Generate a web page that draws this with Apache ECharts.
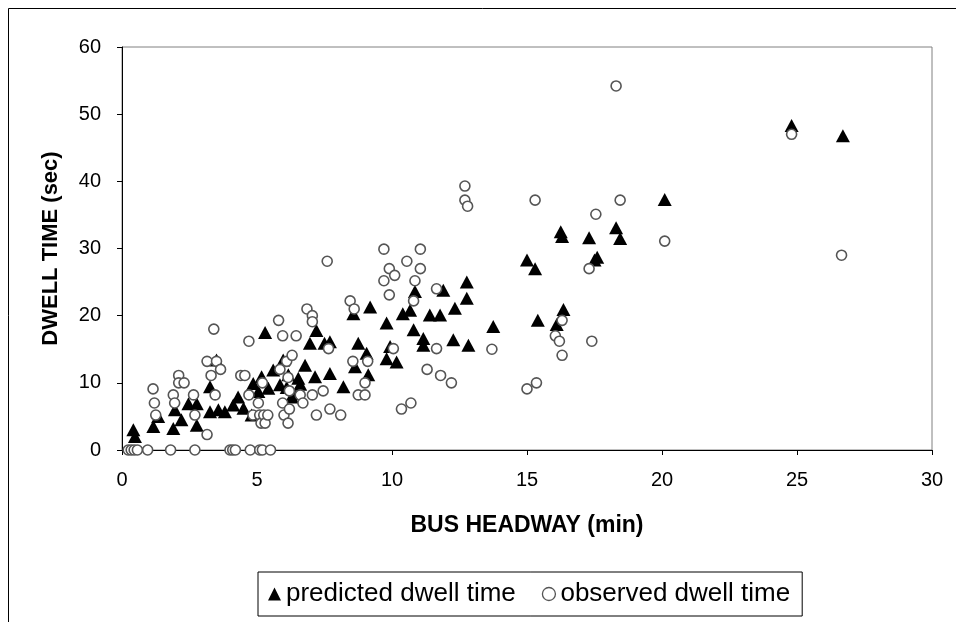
<!DOCTYPE html>
<html>
<head>
<meta charset="utf-8">
<script src="https://cdn.jsdelivr.net/npm/echarts@6/dist/echarts.min.js"></script>
<style>
  html, body { margin: 0; padding: 0; background: #fff; }
  #chart { width: 956px; height: 622px; }
</style>
</head>
<body>
<div id="chart"></div>
<script>
// 预测值 [headway(min), dwell(sec)]
const predicted = [
    [0.42, 3], [0.48, 2], [1.16, 3.5], [1.34, 5], [1.9, 3.2], [1.96, 6], [2.2, 4.5],
    [2.46, 6.9], [2.77, 6.9], [2.77, 3.7], [3.26, 9.4], [3.26, 5.7], [3.57, 6],
    [3.5, 13.4], [3.81, 5.7], [4.12, 6.7], [4.3, 7.9], [4.5, 6.2], [4.8, 5.2],
    [4.86, 9.9], [5.05, 8.7], [5.17, 10.9], [5.3, 17.5], [5.42, 9.2], [5.6, 11.9],
    [5.85, 9.7], [5.97, 13.4], [6.1, 9.3], [6.16, 11.2], [6.3, 7.9], [6.35, 8.4],
    [6.53, 10.7], [6.6, 9.8], [6.78, 12.6], [6.96, 15.9], [7.15, 10.9], [7.2, 17.8],
    [7.5, 15.9], [7.7, 16.1], [7.7, 11.4], [8.2, 9.4], [8.57, 20.3], [8.63, 12.4],
    [8.75, 15.9], [9.06, 14.4], [9.12, 11.2], [9.19, 21.3], [9.8, 18.9], [9.8, 13.6],
    [9.93, 15.4], [10.17, 13.1], [10.4, 20.3], [10.67, 20.8], [10.8, 17.9],
    [10.85, 23.6], [11.16, 16.6], [11.16, 15.6], [11.4, 20.1], [11.78, 20.1],
    [11.9, 23.8], [12.27, 16.4], [12.33, 21.1], [12.77, 25], [12.77, 22.6],
    [12.83, 15.6], [13.75, 18.4], [15.0, 28.3], [15.3, 27], [15.4, 19.3],
    [16.1, 18.7], [16.25, 32.5], [16.3, 31.8], [16.35, 20.9], [17.3, 31.6],
    [17.5, 28.3], [17.6, 28.7], [18.3, 33.1], [18.45, 31.5], [20.1, 37.3],
    [24.8, 48.3], [26.7, 46.8]
];

// 观测值
const observed = [
    [0.23, 0], [0.34, 0], [0.45, 0], [0.57, 0], [0.95, 0], [1.8, 0], [2.7, 0],
    [4.0, 0], [4.1, 0], [4.2, 0], [4.75, 0], [5.1, 0], [5.2, 0], [5.5, 0],
    [1.15, 9.1], [1.2, 7], [1.25, 5.2], [1.9, 8.2], [1.95, 7], [2.1, 11.1], [2.1, 10],
    [2.3, 10], [2.65, 8.2], [2.7, 5.2], [3.15, 13.2], [3.15, 2.3], [3.3, 11.1],
    [3.4, 18], [3.45, 8.2], [3.5, 13.2], [3.65, 12], [4.4, 11.1], [4.55, 11.1],
    [4.7, 16.2], [4.7, 8.2], [4.85, 5.2], [5.05, 7], [5.1, 5.2], [5.2, 10],
    [5.15, 4], [5.25, 5.2], [5.3, 4], [5.4, 5.2], [5.8, 19.3], [5.95, 17],
    [5.85, 12], [5.95, 7], [6.0, 5.2], [6.1, 13.2], [6.15, 10.8], [6.2, 8.8],
    [6.15, 4], [6.2, 6.1], [6.3, 14.1], [6.45, 17], [6.6, 8.2], [6.7, 7],
    [6.85, 21], [7.05, 20], [7.05, 19.1], [7.05, 8.2], [7.2, 5.2], [7.45, 8.8],
    [7.6, 28.1], [7.65, 15.1], [7.7, 6.1], [8.1, 5.2], [8.45, 22.2], [8.55, 13.2],
    [8.6, 21], [8.75, 8.2], [9.0, 10], [9.0, 8.2], [9.1, 13.2], [9.7, 29.9],
    [9.7, 25.2], [9.9, 27], [9.9, 23.1], [10.05, 15.1], [10.1, 26], [10.35, 6.1],
    [10.55, 28.1], [10.7, 7], [10.85, 25.2], [10.8, 22.2], [11.05, 29.9],
    [11.05, 27], [11.3, 12], [11.65, 15.1], [11.65, 24], [11.8, 11.1], [12.2, 10],
    [12.7, 39.3], [12.7, 37.2], [12.8, 36.3], [13.7, 15], [15.0, 9.1], [15.3, 37.2],
    [15.35, 10], [16.05, 17], [16.2, 16.2], [16.3, 19.3], [16.3, 14.1], [17.3, 27],
    [17.4, 16.2], [17.55, 35.1], [18.3, 54.2], [18.45, 37.2], [20.1, 31.1],
    [24.8, 47], [26.65, 29]
];

const seriesNames = ['predicted dwell time', 'observed dwell time'];

const chart = echarts.init(document.getElementById('chart'));
const font = 'Liberation Sans, Arial, sans-serif';

const option = {
    backgroundColor: '#fff',
    animation: false,
    textStyle: { fontFamily: font },
    grid: { left: 122, top: 47, right: 24, bottom: 172, show: true, borderColor: '#808080', borderWidth: 1 },
    legend: {
        data: [
            { name: seriesNames[0], icon: 'triangle', itemStyle: { color: '#000', borderWidth: 0 } },
            { name: seriesNames[1], icon: 'circle', itemStyle: { color: '#fff', borderColor: '#555', borderWidth: 1.3 } }
        ],
        left: 258, top: 572,
        padding: [9, 12, 9, 10],
        itemGap: 26,
        itemWidth: 13, itemHeight: 13,
        borderColor: '#000', borderWidth: 1,
        textStyle: { color: '#000', fontSize: 26, fontFamily: font }
    },
    xAxis: {
        type: 'value',
        min: 0, max: 30, interval: 5,
        name: 'BUS HEADWAY (min)',
        nameLocation: 'middle',
        nameGap: 64,
        nameTextStyle: { color: '#000', fontSize: 23, fontWeight: 'bold', fontFamily: font },
        axisLine: { lineStyle: { color: '#000', width: 1 } },
        axisTick: { show: true, length: 5, lineStyle: { color: '#000' } },
        axisLabel: { color: '#000', fontSize: 20, margin: 20, fontFamily: font },
        splitLine: { show: false }
    },
    yAxis: {
        type: 'value',
        min: 0, max: 60, interval: 10,
        name: 'DWELL TIME (sec)',
        nameLocation: 'middle',
        nameGap: 60,
        nameRotate: 90,
        nameTextStyle: { color: '#000', fontSize: 22, fontWeight: 'bold', fontFamily: font },
        axisLine: { show: true, lineStyle: { color: '#000', width: 1 } },
        axisTick: { show: true, length: 5, lineStyle: { color: '#000' } },
        axisLabel: { color: '#000', fontSize: 20, margin: 21, fontFamily: font },
        splitLine: { show: false }
    },
    series: [
        {
            name: seriesNames[0],
            type: 'scatter',
            symbol: 'triangle',
            symbolSize: [14, 13],
            itemStyle: { color: '#000', opacity: 1 },
            data: predicted,
            z: 2
        },
        {
            name: seriesNames[1],
            type: 'scatter',
            symbol: 'circle',
            symbolSize: 10,
            itemStyle: { color: '#fff', borderColor: '#555', borderWidth: 1.6, opacity: 1 },
            data: observed,
            z: 3
        }
    ],
    graphic: [{
        type: 'rect',
        shape: { x: 8.5, y: 8.5, width: 960, height: 640 },
        style: { fill: 'none', stroke: '#000', lineWidth: 1 },
        silent: true
    }]
};

chart.setOption(option);
</script>
</body>
</html>
